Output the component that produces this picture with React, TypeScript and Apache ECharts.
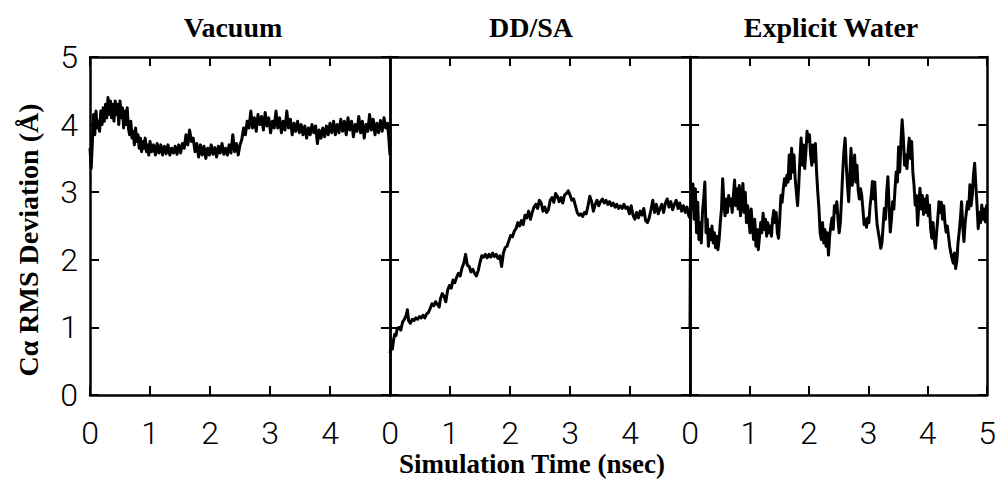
import React, { useEffect, useRef } from "react";
import * as echarts from "echarts";

const panelTitles = ["Vacuum", "DD/SA", "Explicit Water"];
const xTicks = [0, 1, 2, 3, 4, 5];
const yTicks = [0, 1, 2, 3, 4, 5];
const yAxisTitle = "Cα RMS Deviation (Å)";
const xAxisTitle = "Simulation Time (nsec)";

const vacuum: number[][] = [
  [0.0, 3.65], [0.02, 3.35], [0.04, 3.75], [0.06, 4.15], [0.08, 3.85], [0.1, 4.2], [0.12, 3.95], [0.14, 4.05],
  [0.16, 3.9], [0.18, 4.2], [0.2, 4.0], [0.22, 4.25], [0.24, 4.05], [0.26, 4.3], [0.28, 4.1], [0.3, 4.4],
  [0.32, 4.15], [0.34, 4.35], [0.36, 4.1], [0.38, 4.3], [0.4, 4.05], [0.42, 4.35], [0.44, 4.15], [0.46, 4.3],
  [0.48, 4.0], [0.5, 4.35], [0.52, 4.1], [0.54, 4.25], [0.56, 3.95], [0.58, 4.2], [0.6, 4.0], [0.62, 4.25],
  [0.64, 3.95], [0.66, 3.85], [0.68, 4.05], [0.7, 3.8], [0.72, 3.9], [0.74, 3.7], [0.76, 3.95], [0.78, 3.75],
  [0.8, 3.85], [0.82, 3.65], [0.84, 3.8], [0.86, 3.6], [0.88, 3.75], [0.9, 3.65], [0.92, 3.8], [0.94, 3.6],
  [0.96, 3.7], [0.98, 3.55], [1.0, 3.75], [1.03, 3.6], [1.06, 3.7], [1.09, 3.55], [1.12, 3.72], [1.15, 3.58],
  [1.18, 3.7], [1.21, 3.55], [1.24, 3.68], [1.27, 3.57], [1.3, 3.7], [1.33, 3.55], [1.36, 3.65], [1.39, 3.58],
  [1.42, 3.68], [1.45, 3.56], [1.48, 3.7], [1.51, 3.58], [1.54, 3.72], [1.57, 3.65], [1.6, 3.85], [1.63, 3.7],
  [1.66, 3.92], [1.69, 3.75], [1.72, 3.8], [1.75, 3.6], [1.78, 3.72], [1.81, 3.52], [1.84, 3.7], [1.87, 3.55],
  [1.9, 3.68], [1.93, 3.5], [1.96, 3.65], [1.99, 3.55], [2.02, 3.7], [2.05, 3.56], [2.08, 3.66], [2.11, 3.52],
  [2.14, 3.68], [2.17, 3.58], [2.2, 3.72], [2.23, 3.56], [2.26, 3.65], [2.29, 3.55], [2.32, 3.7], [2.35, 3.58],
  [2.38, 3.85], [2.41, 3.6], [2.44, 3.72], [2.47, 3.55], [2.5, 3.7], [2.53, 3.78], [2.56, 3.95], [2.59, 3.85],
  [2.62, 4.05], [2.65, 3.95], [2.68, 4.2], [2.71, 3.95], [2.74, 4.1], [2.77, 3.9], [2.8, 4.15], [2.83, 4.0],
  [2.86, 4.12], [2.89, 3.92], [2.92, 4.18], [2.95, 3.98], [2.98, 4.1], [3.01, 3.88], [3.04, 4.05], [3.07, 3.95],
  [3.1, 4.2], [3.13, 3.95], [3.16, 4.1], [3.19, 3.88], [3.22, 4.05], [3.25, 3.92], [3.28, 4.2], [3.31, 3.95],
  [3.34, 4.08], [3.37, 3.85], [3.4, 4.02], [3.43, 3.9], [3.46, 4.05], [3.49, 3.88], [3.52, 4.0], [3.55, 3.85],
  [3.58, 3.98], [3.61, 3.8], [3.64, 3.95], [3.67, 3.85], [3.7, 4.0], [3.73, 3.88], [3.76, 3.98], [3.79, 3.72],
  [3.82, 3.92], [3.85, 3.8], [3.88, 3.95], [3.91, 3.82], [3.94, 3.98], [3.97, 3.85], [4.0, 4.02], [4.03, 3.88],
  [4.06, 4.05], [4.09, 3.85], [4.12, 4.0], [4.15, 3.88], [4.18, 4.08], [4.21, 3.9], [4.24, 4.05], [4.27, 3.85],
  [4.3, 4.1], [4.33, 3.92], [4.36, 4.05], [4.39, 3.82], [4.42, 4.0], [4.45, 3.9], [4.48, 4.12], [4.51, 3.88],
  [4.54, 4.05], [4.57, 3.8], [4.6, 4.0], [4.63, 3.9], [4.66, 4.15], [4.69, 3.92], [4.72, 4.08], [4.75, 3.85],
  [4.78, 4.02], [4.81, 3.88], [4.84, 4.06], [4.87, 3.9], [4.9, 4.1], [4.93, 3.95], [4.96, 4.02], [4.98, 3.8],
  [5.0, 3.55],
];

const ddsa: number[][] = [
  [0.0, 0.62], [0.02, 0.7], [0.04, 0.68], [0.06, 0.82], [0.08, 0.9], [0.1, 0.88], [0.12, 0.98], [0.15, 1.0],
  [0.18, 0.96], [0.21, 1.08], [0.24, 1.12], [0.27, 1.18], [0.29, 1.26], [0.31, 1.1], [0.34, 1.06], [0.37, 1.12],
  [0.4, 1.1], [0.43, 1.14], [0.46, 1.12], [0.49, 1.16], [0.52, 1.14], [0.55, 1.18], [0.58, 1.14], [0.61, 1.2],
  [0.64, 1.22], [0.67, 1.28], [0.7, 1.35], [0.73, 1.32], [0.76, 1.38], [0.79, 1.34], [0.82, 1.3], [0.84, 1.42],
  [0.87, 1.5], [0.9, 1.46], [0.93, 1.38], [0.96, 1.55], [0.99, 1.62], [1.02, 1.58], [1.05, 1.7], [1.08, 1.66],
  [1.11, 1.74], [1.14, 1.8], [1.17, 1.76], [1.2, 1.88], [1.23, 1.95], [1.26, 2.08], [1.29, 1.92], [1.32, 1.9],
  [1.35, 1.82], [1.38, 1.86], [1.41, 1.8], [1.44, 1.76], [1.47, 1.84], [1.5, 1.96], [1.53, 2.06], [1.56, 2.04],
  [1.59, 2.08], [1.62, 2.03], [1.65, 2.08], [1.68, 2.04], [1.71, 2.1], [1.74, 2.05], [1.77, 2.08], [1.8, 2.02],
  [1.83, 2.06], [1.86, 1.9], [1.89, 2.1], [1.92, 2.18], [1.95, 2.2], [1.98, 2.28], [2.01, 2.36], [2.04, 2.34],
  [2.07, 2.42], [2.1, 2.46], [2.13, 2.55], [2.16, 2.5], [2.19, 2.58], [2.22, 2.52], [2.25, 2.66], [2.28, 2.62],
  [2.31, 2.72], [2.34, 2.6], [2.37, 2.7], [2.4, 2.78], [2.43, 2.82], [2.46, 2.76], [2.49, 2.88], [2.52, 2.84],
  [2.55, 2.72], [2.58, 2.78], [2.61, 2.7], [2.64, 2.74], [2.67, 2.88], [2.7, 2.92], [2.73, 2.85], [2.76, 2.98],
  [2.79, 2.94], [2.82, 2.86], [2.85, 2.92], [2.88, 2.84], [2.91, 2.96], [2.94, 2.98], [2.97, 3.02], [3.0, 2.96],
  [3.03, 2.88], [3.06, 2.9], [3.09, 2.8], [3.12, 2.7], [3.15, 2.66], [3.18, 2.68], [3.21, 2.64], [3.24, 2.7],
  [3.27, 2.68], [3.3, 2.8], [3.33, 2.94], [3.36, 2.86], [3.39, 2.72], [3.42, 2.82], [3.45, 2.88], [3.48, 2.8],
  [3.51, 2.86], [3.54, 2.9], [3.57, 2.84], [3.6, 2.88], [3.63, 2.82], [3.66, 2.86], [3.69, 2.8], [3.72, 2.84],
  [3.75, 2.78], [3.78, 2.82], [3.81, 2.76], [3.84, 2.8], [3.87, 2.76], [3.9, 2.82], [3.93, 2.76], [3.96, 2.78],
  [3.99, 2.68], [4.02, 2.8], [4.05, 2.66], [4.08, 2.6], [4.11, 2.7], [4.14, 2.62], [4.17, 2.72], [4.2, 2.66],
  [4.23, 2.76], [4.26, 2.58], [4.29, 2.55], [4.32, 2.62], [4.35, 2.74], [4.38, 2.88], [4.41, 2.7], [4.44, 2.82],
  [4.47, 2.68], [4.5, 2.76], [4.53, 2.82], [4.56, 2.7], [4.59, 2.84], [4.62, 2.9], [4.65, 2.78], [4.68, 2.86],
  [4.71, 2.74], [4.74, 2.82], [4.77, 2.88], [4.8, 2.76], [4.83, 2.84], [4.86, 2.72], [4.89, 2.8], [4.92, 2.7],
  [4.95, 2.78], [4.98, 2.65], [5.0, 2.62],
];

const water: number[][] = [
  [0.0, 1.0], [0.01, 2.7], [0.03, 2.95], [0.05, 3.12], [0.07, 2.6], [0.09, 3.05], [0.11, 2.4], [0.13, 2.85],
  [0.15, 2.3], [0.17, 2.55], [0.19, 2.25], [0.21, 2.7], [0.23, 2.9], [0.25, 3.15], [0.27, 2.4], [0.29, 2.6],
  [0.31, 2.2], [0.33, 2.45], [0.35, 2.3], [0.37, 2.5], [0.39, 2.25], [0.41, 2.4], [0.43, 2.18], [0.45, 2.35],
  [0.47, 2.15], [0.49, 2.3], [0.51, 2.55], [0.53, 2.75], [0.55, 3.2], [0.57, 2.85], [0.59, 2.65], [0.61, 2.9],
  [0.63, 2.7], [0.65, 2.95], [0.67, 2.8], [0.69, 2.9], [0.71, 2.7], [0.73, 2.95], [0.75, 3.18], [0.77, 2.8],
  [0.79, 3.05], [0.81, 2.75], [0.83, 3.1], [0.85, 2.65], [0.87, 2.85], [0.89, 3.13], [0.91, 2.7], [0.93, 3.0],
  [0.95, 2.55], [0.97, 2.8], [0.99, 2.6], [1.01, 2.4], [1.03, 2.75], [1.05, 2.5], [1.07, 2.3], [1.09, 2.6],
  [1.11, 2.2], [1.13, 2.45], [1.15, 2.15], [1.17, 2.35], [1.19, 2.55], [1.21, 2.4], [1.23, 2.69], [1.25, 2.45],
  [1.27, 2.6], [1.29, 2.35], [1.31, 2.55], [1.33, 2.4], [1.35, 2.5], [1.37, 2.35], [1.39, 2.6], [1.41, 2.73],
  [1.43, 2.55], [1.45, 2.7], [1.47, 2.4], [1.49, 2.32], [1.51, 2.6], [1.53, 2.95], [1.55, 2.85], [1.57, 3.05],
  [1.59, 3.2], [1.61, 3.1], [1.63, 3.25], [1.65, 3.15], [1.67, 3.55], [1.69, 3.2], [1.71, 3.65], [1.73, 3.3],
  [1.75, 3.55], [1.77, 3.2], [1.79, 3.0], [1.81, 2.8], [1.83, 3.1], [1.85, 3.5], [1.87, 3.8], [1.89, 3.4],
  [1.91, 3.7], [1.93, 3.35], [1.95, 3.6], [1.97, 3.9], [1.99, 3.75], [2.01, 3.85], [2.03, 3.55], [2.05, 3.4],
  [2.07, 3.7], [2.09, 3.45], [2.11, 3.72], [2.13, 3.3], [2.15, 3.0], [2.17, 2.75], [2.19, 2.4], [2.21, 2.3],
  [2.23, 2.55], [2.25, 2.25], [2.27, 2.45], [2.29, 2.2], [2.31, 2.4], [2.33, 2.07], [2.35, 2.35], [2.37, 2.5],
  [2.39, 2.62], [2.41, 2.45], [2.43, 2.8], [2.45, 2.7], [2.47, 2.86], [2.49, 2.6], [2.51, 2.4], [2.53, 2.55],
  [2.55, 2.9], [2.57, 3.3], [2.59, 3.6], [2.61, 3.8], [2.63, 3.4], [2.65, 3.1], [2.67, 2.86], [2.69, 3.25],
  [2.71, 3.65], [2.73, 3.1], [2.75, 3.3], [2.77, 3.55], [2.79, 3.15], [2.81, 3.4], [2.83, 3.03], [2.85, 2.9],
  [2.87, 3.05], [2.89, 2.95], [2.91, 2.75], [2.93, 2.52], [2.95, 2.6], [2.97, 2.48], [2.99, 2.62], [3.01, 2.55],
  [3.03, 2.8], [3.05, 2.95], [3.07, 3.16], [3.09, 2.9], [3.11, 3.15], [3.13, 2.75], [3.15, 2.51], [3.17, 2.4],
  [3.19, 2.3], [3.21, 2.17], [3.23, 2.25], [3.25, 2.5], [3.27, 2.76], [3.29, 2.6], [3.31, 3.0], [3.33, 3.23],
  [3.35, 2.8], [3.37, 2.41], [3.39, 2.6], [3.41, 2.86], [3.43, 2.75], [3.45, 3.05], [3.47, 3.3], [3.49, 3.15],
  [3.51, 3.67], [3.53, 3.3], [3.55, 3.75], [3.57, 4.07], [3.59, 3.8], [3.61, 3.4], [3.63, 3.55], [3.65, 3.35],
  [3.67, 3.6], [3.69, 3.8], [3.71, 3.5], [3.73, 3.75], [3.75, 3.3], [3.77, 3.1], [3.79, 2.81], [3.81, 2.95],
  [3.83, 2.51], [3.85, 2.8], [3.87, 3.06], [3.89, 2.75], [3.91, 2.95], [3.93, 2.67], [3.95, 2.9], [3.97, 2.7],
  [3.99, 2.95], [4.01, 2.65], [4.03, 2.81], [4.05, 2.45], [4.07, 2.32], [4.09, 2.55], [4.11, 2.3], [4.13, 2.17],
  [4.15, 2.4], [4.17, 2.62], [4.19, 2.86], [4.21, 2.7], [4.23, 2.85], [4.25, 2.6], [4.27, 2.8], [4.29, 2.55],
  [4.31, 2.41], [4.33, 2.5], [4.35, 2.35], [4.37, 2.2], [4.39, 2.1], [4.41, 2.02], [4.43, 1.95], [4.45, 2.1],
  [4.47, 1.87], [4.49, 1.98], [4.51, 2.25], [4.53, 2.41], [4.55, 2.6], [4.57, 2.86], [4.59, 2.5], [4.61, 2.27],
  [4.63, 2.55], [4.65, 2.7], [4.67, 2.86], [4.69, 2.75], [4.71, 3.11], [4.73, 2.8], [4.75, 2.95], [4.77, 3.25],
  [4.79, 3.43], [4.81, 3.1], [4.83, 2.81], [4.85, 2.46], [4.87, 2.7], [4.89, 2.55], [4.91, 2.81], [4.93, 2.6],
  [4.95, 2.75], [4.97, 2.56], [4.99, 2.8], [5.0, 2.7],
];

const seriesData = [vacuum, ddsa, water];

const LABEL_FONT = "'Roboto', 'Liberation Sans Narrow', sans-serif";
const TITLE_FONT = "'Liberation Serif', 'DejaVu Serif', serif";

export default function App() {
  const ref = useRef<HTMLDivElement>(null);
  useEffect(() => {
    if (!ref.current) return;
    const chart = echarts.init(ref.current, undefined, { renderer: "svg" });
    const lefts = [90, 390, 690];
    const grids = lefts.map((l) => ({ left: l, top: 57, width: 300, height: 338, show: false }));
    const line = { show: true, onZero: false, lineStyle: { color: "#000", width: 2.5 } };
    const tick = { show: true, inside: true, length: 9, lineStyle: { color: "#000", width: 2 } };
    const labelStyle = { color: "#000", fontSize: 32, fontFamily: LABEL_FONT, fontWeight: 300 };
    const xAxes: any[] = [];
    const yAxes: any[] = [];
    lefts.forEach((_, i) => {
      const base = {
        type: "value", gridIndex: i, min: xTicks[0], max: xTicks[xTicks.length - 1], interval: 1,
        splitLine: { show: false }, axisLine: line, axisTick: tick,
      };
      xAxes.push({
        ...base, position: "bottom",
        axisLabel: { show: true, ...labelStyle, margin: 22, showMaxLabel: i === 2, showMinLabel: true },
      });
      xAxes.push({ ...base, position: "top", axisLabel: { show: false } });
      const ybase = {
        type: "value", gridIndex: i, min: yTicks[0], max: yTicks[yTicks.length - 1], interval: 1,
        splitLine: { show: false }, axisLine: line, axisTick: tick,
      };
      yAxes.push({
        ...ybase, position: "left",
        axisLabel: { show: i === 0, ...labelStyle, margin: 12, showMinLabel: true, showMaxLabel: true },
      });
      yAxes.push({ ...ybase, position: "right", axisLabel: { show: false } });
    });
    const series = seriesData.map((d, i) => ({
      type: "line", xAxisIndex: i * 2, yAxisIndex: i * 2, data: d, showSymbol: false, symbol: "none",
      lineStyle: { color: "#000", width: 3, join: "round" }, clip: true, z: 1,
    }));
    const titleCenters = [233, 531, 831];
    const graphic: any[] = panelTitles.map((t, i) => ({
      type: "text", x: titleCenters[i], y: 27,
      style: { text: t, fontFamily: TITLE_FONT, fontWeight: "bold", fontSize: 28, fill: "#000", align: "center", verticalAlign: "middle" },
    }));
    graphic.push({
      type: "text", x: 532, y: 464,
      style: { text: xAxisTitle, fontFamily: TITLE_FONT, fontWeight: "bold", fontSize: 27, fill: "#000", align: "center", verticalAlign: "middle" },
    });
    graphic.push({
      type: "text", x: 28, y: 240, rotation: Math.PI / 2,
      style: { text: yAxisTitle, fontFamily: TITLE_FONT, fontWeight: "bold", fontSize: 28, fill: "#000", align: "center", verticalAlign: "middle" },
    });
    chart.setOption({
      animation: false,
      backgroundColor: "#fff",
      grid: grids,
      xAxis: xAxes,
      yAxis: yAxes,
      series,
      graphic,
    });
    return () => chart.dispose();
  }, []);
  return <div ref={ref} style={{ position: "fixed", left: 0, top: 0, width: 999, height: 481 }} />;
}
